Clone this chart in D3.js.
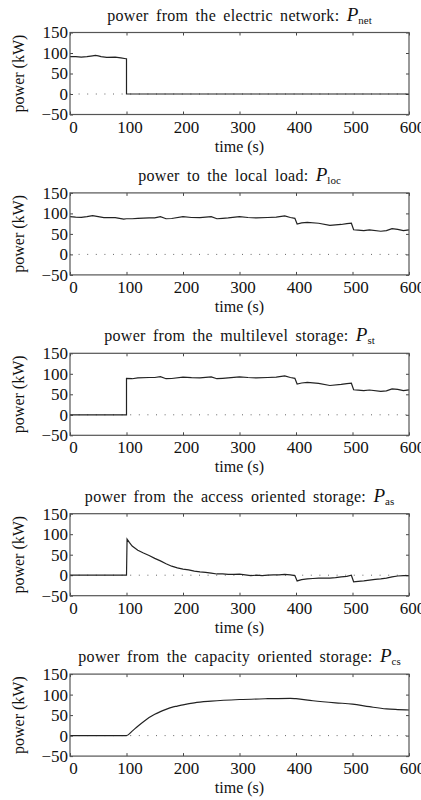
<!DOCTYPE html>
<html>
<head>
<meta charset="utf-8">
<script src="https://cdn.jsdelivr.net/npm/d3@7"></script>
<style>
  body { margin: 0; background: #fff; }
</style>
</head>
<body>
<script>
// axis ticks
const xTicks = [0, 100, 200, 300, 400, 500, 600];
const yTicks = [-50, 0, 50, 100, 150];

// power from the electric network
const tNet = [0, 10, 20, 30, 40, 45, 50, 55, 65, 80, 90, 99, 100, 100, 600];
const pNet = [91, 91, 90, 91, 93, 94, 93, 91, 89.5, 90, 88, 86, 86, 0, 0];

// power to the local load
const tLoc = [0, 10, 20, 30, 40, 50, 60, 70, 80, 95, 100, 110, 120, 140, 150, 160, 170, 180, 200, 215,
  230, 245, 250, 260, 270, 280, 300, 315, 330, 350, 365, 380, 390, 398, 402, 410, 420, 440, 460, 480,
  490, 498, 502, 510, 520, 530, 550, 560, 570, 580, 590, 600];
const pLoc = [92, 91, 90.5, 92, 94.5, 92, 89.5, 90, 89.5, 86, 87, 87, 88, 89, 89, 92, 87, 87.5, 92, 90,
  89.5, 91.5, 92, 87, 88, 89, 92, 90, 89, 90, 91, 94, 90, 88, 74, 77, 78, 76, 71, 73,
  75, 76, 60, 59, 58, 60, 56.5, 58, 63, 61, 58, 60];

// power from the multilevel storage
const tSt = [0, 100, 100, 110, 120, 140, 150, 160, 170, 180, 200, 215, 230, 245, 250, 260, 270, 280, 300, 315,
  330, 350, 365, 380, 390, 398, 402, 410, 420, 440, 460, 480, 490, 498, 502, 510, 520, 530, 550, 560,
  570, 580, 590, 600];
const pSt = [0, 0, 89, 88, 90, 91, 91, 93, 88, 88.5, 92, 90.5, 90, 92, 92.5, 88, 89, 90, 92.5, 91,
  90, 91, 92, 95, 91, 89, 75, 77.5, 79, 76.5, 71.5, 74, 76, 77, 61, 60, 59, 60.5, 57, 58.5,
  63, 62, 59, 61];

// power from the access oriented storage
const tAs = [0, 100, 101, 105, 110, 120, 130, 140, 150, 160, 170, 180, 190, 200, 210, 220, 230, 240, 250, 260,
  270, 280, 290, 300, 310, 320, 330, 340, 350, 360, 370, 380, 390, 398, 402, 410, 420, 430, 440, 450,
  460, 470, 480, 490, 498, 502, 510, 520, 530, 540, 550, 560, 570, 580, 590, 600];
const pAs = [0, 0, 88, 80, 71, 61, 54, 48, 41, 35, 28, 22, 18, 15, 13, 10, 8, 7, 5, 3,
  3, 2, 2, 2.5, 1, -1, 0, -1, 0, 1, 1, 2, 1, -1, -14, -11, -9, -8, -7, -7,
  -7, -6, -4, -3, 0, -16, -15, -14, -12, -10, -9, -7, -4, -2, -1, -1];

// power from the capacity oriented storage
const tCs = [0, 100, 110, 120, 130, 140, 150, 160, 170, 180, 190, 200, 220, 250, 300, 350, 390, 400, 430, 470,
  500, 530, 560, 580, 600];
const pCs = [0, 0, 11, 23, 34, 44, 52, 58.5, 64, 69, 72, 75, 80, 84, 88, 90, 91, 90, 85, 80,
  77, 70.5, 65, 63.5, 62.5];

const titles = [
  "power from the electric network: ",
  "power to the local load: ",
  "power from the multilevel storage: ",
  "power from the access oriented storage: ",
  "power from the capacity oriented storage: "
];
const subs = ["net", "loc", "st", "as", "cs"];
const times = [tNet, tLoc, tSt, tAs, tCs];
const powers = [pNet, pLoc, pSt, pAs, pCs];

const W = 421, H = 800;
const left = 70, right = 409, plotH = 82;
const serif = '"Liberation Serif", "Times New Roman", serif';

const svg = d3.select("body").append("svg").attr("width", W).attr("height", H);
svg.append("rect").attr("width", W).attr("height", H).attr("fill", "#fff");

const x = d3.scaleLinear().domain([0, 600]).range([left, right]);

function tegnPanel(i) {
  const top = 32.5 + i * 160.4;
  const y = d3.scaleLinear().domain([-50, 150]).range([top + plotH, top]);
  const g = svg.append("g");

  // prikket nul-linje
  g.append("line")
    .attr("x1", x(0)).attr("x2", x(600))
    .attr("y1", y(0)).attr("y2", y(0))
    .attr("stroke", "#666").attr("stroke-width", 1)
    .attr("stroke-dasharray", "1,7.6");

  // akser med ticks indad
  const bottom = g.append("g").attr("transform", `translate(0,${top + plotH})`)
    .call(d3.axisBottom(x).tickValues(xTicks).tickSize(-3).tickPadding(6));
  g.append("g").attr("transform", `translate(0,${top})`)
    .call(d3.axisTop(x).tickValues(xTicks).tickSize(-3).tickFormat(""));
  const leftAx = g.append("g").attr("transform", `translate(${left},0)`)
    .call(d3.axisLeft(y).tickValues(yTicks).tickSize(-3).tickPadding(2));
  g.append("g").attr("transform", `translate(${right},0)`)
    .call(d3.axisRight(y).tickValues(yTicks).tickSize(-3).tickFormat(""));

  g.selectAll(".domain").remove();
  g.selectAll(".tick line").attr("stroke", "#444");
  bottom.selectAll("text").attr("font-size", 17).attr("dx", 3)
    .style("font-family", serif).attr("fill", "#111");
  leftAx.selectAll("text").attr("font-size", 17)
    .style("font-family", serif).attr("fill", "#111")
    .text(d => d < 0 ? "\u2212" + Math.abs(d) : d);

  // datalinje
  const line = d3.line()
    .x((d, k) => x(times[i][k]))
    .y(d => y(d))
    .curve(i === 4 ? d3.curveMonotoneX : d3.curveLinear);
  g.append("path")
    .datum(powers[i])
    .attr("d", line)
    .attr("fill", "none")
    .attr("stroke", "#222")
    .attr("stroke-width", 1.2);

  // ramme
  g.append("rect")
    .attr("x", left).attr("y", top)
    .attr("width", right - left).attr("height", plotH)
    .attr("fill", "none").attr("stroke", "#555").attr("stroke-width", 1.2);

  // titel
  const ti = g.append("text")
    .attr("x", (left + right) / 2).attr("y", top - 12)
    .attr("text-anchor", "middle").attr("font-size", 16)
    .style("font-family", serif).attr("fill", "#111");
  ti.append("tspan").style("letter-spacing", "0.3px").style("word-spacing", "3px").text(titles[i]);
  ti.append("tspan").attr("font-style", "italic").attr("font-size", 19).text("P");
  ti.append("tspan").attr("font-size", 11).attr("dy", 3).text(subs[i]);

  // aksetitler
  g.append("text")
    .attr("x", (left + right) / 2).attr("y", top + plotH + 37)
    .attr("text-anchor", "middle").attr("font-size", 16)
    .style("font-family", serif).attr("fill", "#111")
    .text("time (s)");
  g.append("text")
    .attr("transform", `translate(24,${top + plotH / 2}) rotate(-90)`)
    .attr("text-anchor", "middle").attr("font-size", 16)
    .style("font-family", serif).attr("fill", "#111")
    .text("power (kW)");
}

for (let i = 0; i < 5; i++) tegnPanel(i);
</script>
</body>
</html>
